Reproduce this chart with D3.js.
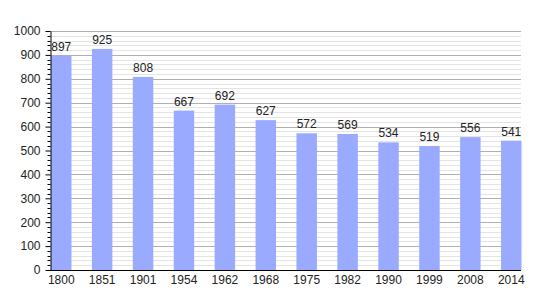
<!DOCTYPE html>
<html>
<head>
<meta charset="utf-8">
<script src="https://cdn.jsdelivr.net/npm/d3@7"></script>
<style>
  body { margin: 0; background: #fff; }
  text { font-family: "Liberation Sans", Arial, sans-serif; }
</style>
</head>
<body>
<div id="chart"></div>
<script>
var years = ["1800", "1851", "1901", "1954", "1962", "1968", "1975", "1982", "1990", "1999", "2008", "2014"];
var population = [897, 925, 808, 667, 692, 627, 572, 569, 534, 519, 556, 541];
var yTicks = [0, 100, 200, 300, 400, 500, 600, 700, 800, 900, 1000];

var margin = {top: 31, right: 29, bottom: 30, left: 50};
var width = 550 - margin.left - margin.right;
var height = 300 - margin.top - margin.bottom;

var svg = d3.select("#chart").append("svg")
    .attr("width", 550)
    .attr("height", 300)
    .append("g")
    .attr("transform", "translate(" + margin.left + "," + margin.top + ")");

var xScale = d3.scaleBand().domain(years).range([1, width + 0.5]).paddingInner(0.5).paddingOuter(0);
var yScale = d3.scaleLinear().domain([0, 1000]).range([height, 0]);

// minor gridlines every 20
svg.append("g").selectAll("line")
    .data(d3.range(20, 1000, 20).filter(function(d){ return d % 100 != 0; }))
    .enter().append("line")
    .attr("x1", 0).attr("x2", width)
    .attr("y1", function(d){ return Math.round(yScale(d)) + 0.5; })
    .attr("y2", function(d){ return Math.round(yScale(d)) + 0.5; })
    .attr("stroke", "#e4e4e4");

// major gridlines
svg.append("g").selectAll("line")
    .data(yTicks.slice(1))
    .enter().append("line")
    .attr("x1", 0).attr("x2", width)
    .attr("y1", function(d){ return Math.round(yScale(d)) + 0.5; })
    .attr("y2", function(d){ return Math.round(yScale(d)) + 0.5; })
    .attr("stroke", "#b0b0b0");

// bars
svg.selectAll("rect.bar")
    .data(population)
    .enter().append("rect")
    .attr("class", "bar")
    .attr("x", function(d, i){ return xScale(years[i]); })
    .attr("width", xScale.bandwidth())
    .attr("y", function(d){ return yScale(d); })
    .attr("height", function(d){ return height - yScale(d); })
    .attr("fill", "#99aaff");

// value labels
svg.selectAll("text.val")
    .data(population)
    .enter().append("text")
    .attr("class", "val")
    .attr("x", function(d, i){ return xScale(years[i]) + xScale.bandwidth() / 2; })
    .attr("y", function(d){ return yScale(d) - 5; })
    .attr("text-anchor", "middle")
    .style("font-size", "12px")
    .attr("fill", "#222")
    .text(function(d){ return d; });

// y axis with minor ticks
var yAxis = d3.axisLeft(yScale).tickValues(yTicks).tickSize(5).tickSizeOuter(0).tickFormat(d3.format("d"));
var yG = svg.append("g").attr("transform", "translate(0.5,0)").call(yAxis);
yG.select(".domain").attr("stroke", "#000");
yG.selectAll("text").style("font-size", "12px").attr("fill", "#222").attr("x", -10);
yG.append("g").selectAll("line")
    .data(d3.range(20, 1000, 20).filter(function(d){ return d % 100 != 0; }))
    .enter().append("line")
    .attr("x1", -3).attr("x2", 0)
    .attr("y1", function(d){ return Math.round(yScale(d)) + 0.5; })
    .attr("y2", function(d){ return Math.round(yScale(d)) + 0.5; })
    .attr("stroke", "#000");

// x axis
var xAxis = d3.axisBottom(xScale).tickSize(0).tickSizeOuter(0);
var xG = svg.append("g").attr("transform", "translate(0," + (height + 0.5) + ")").call(xAxis);
xG.select(".domain").attr("stroke", "#000").attr("d", "M0,0H" + width);
xG.selectAll("text").style("font-size", "12px").attr("fill", "#222").attr("dy", "0.85em");
</script>
</body>
</html>
